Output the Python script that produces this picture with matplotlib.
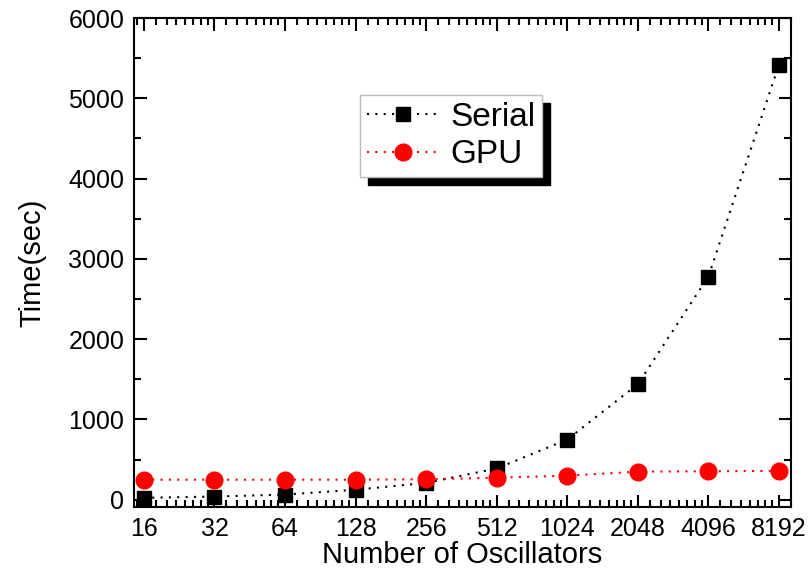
import matplotlib
matplotlib.use("Agg")
import matplotlib.pyplot as plt
import matplotlib.ticker as mticker
import numpy as np

plt.rcParams['font.family'] = ['Liberation Sans', 'DejaVu Sans']

oscillators = [16, 32, 64, 128, 256, 512, 1024, 2048, 4096, 8192]
serial_time = [25, 40, 65, 125, 210, 390, 750, 1440, 2780, 5420]
gpu_time = [250, 250, 250, 250, 255, 275, 300, 350, 355, 360]
x_tick_labels = [str(v) for v in oscillators]
y_ticks = [0, 1000, 2000, 3000, 4000, 5000, 6000]

fig = plt.figure(figsize=(8.09, 5.72), dpi=100)
ax = fig.add_axes([134/809, 1-507/572, (791-134)/809, (507-18)/572])

ax.plot(oscillators, serial_time, linestyle=(0, (1, 3)), color='black', lw=1.5,
        marker='s', markersize=10, markerfacecolor='black', markeredgecolor='black',
        label='Serial')
ax.plot(oscillators, gpu_time, linestyle=(0, (1, 3)), color='red', lw=1.5,
        marker='o', markersize=12, markerfacecolor='red', markeredgecolor='red',
        label='GPU')

ax.set_xscale('log', base=2)
ax.set_xlim(16 * 2**(-0.14), 8192 * 2**(0.17))
ax.set_ylim(-90, 6000)
ax.xaxis.set_major_locator(mticker.FixedLocator(oscillators))
ax.xaxis.set_major_formatter(mticker.FixedFormatter(x_tick_labels))
ax.xaxis.set_minor_locator(mticker.LogLocator(base=2, subs=np.arange(1.125, 2.0, 0.125), numticks=100))
ax.xaxis.set_minor_formatter(mticker.NullFormatter())
ax.yaxis.set_major_locator(mticker.FixedLocator(y_ticks))
ax.yaxis.set_minor_locator(mticker.MultipleLocator(500))

ax.tick_params(which='both', direction='in', top=True, right=True, width=1.5)
ax.tick_params(which='major', length=9, labelsize=18, pad=7)
ax.tick_params(which='minor', length=5)
for s in ax.spines.values():
    s.set_linewidth(1.5)

ax.set_xlabel('Number of Oscillators', fontsize=21, labelpad=0)
ax.set_ylabel('Time(sec)', fontsize=21, labelpad=16)

leg = ax.legend(loc='upper left', bbox_to_anchor=((360-134)/657, 1-(95-18)/489),
                fontsize=24, frameon=True, fancybox=False,
                shadow={'color': 'black', 'alpha': 1, 'ox': 6, 'oy': -6},
                handlelength=2.2, borderpad=0.2, labelspacing=0.2, handletextpad=0.3,
                borderaxespad=0)
leg.get_frame().set_edgecolor('#bbbbbb')
leg.get_frame().set_linewidth(1.0)

fig.savefig('out.png', dpi=100)
